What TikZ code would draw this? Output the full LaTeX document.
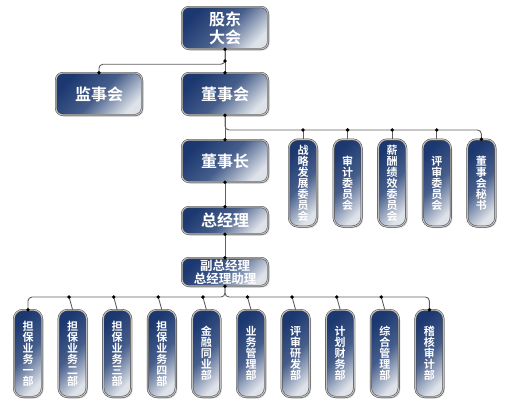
\documentclass[tikz,border=0pt]{standalone}
\usepackage{fontspec}
\newfontfamily\cjk{Noto Sans CJK SC}[BoldFont={Noto Sans CJK SC Bold}]
\usetikzlibrary{shadows}

\definecolor{boxdark}{RGB}{27,56,112}
\definecolor{boxlight}{RGB}{222,226,233}
\definecolor{linkgray}{RGB}{95,95,95}

\tikzset{
    orgbox/.style={draw=black!75, line width=0.45pt, double=gray!50, double distance=1.1pt,
        top color=boxdark, bottom color=boxlight, middle color=boxdark!78!boxlight,
        shading angle=45, text=white, align=center, inner sep=0pt,
        drop shadow={shadow xshift=1.5pt, shadow yshift=-1.5pt, opacity=0.3}},
    widebox/.style={orgbox, rounded corners=7pt, minimum width=86pt, minimum height=42pt,
        font=\cjk\bfseries\fontsize{16}{18}\selectfont},
    tallbox/.style={orgbox, rounded corners=9pt, minimum width=28pt, minimum height=87pt,
        font=\cjk\bfseries\fontsize{11}{11}\selectfont},
    link/.style={draw=linkgray, line width=0.9pt, rounded corners=4pt}
}

\begin{document}
\begin{tikzpicture}[x=1pt, y=-1pt]
    \useasboundingbox (0,0) rectangle (505,402);

    % main column
    \node[widebox] (gudong) at (225,28) {股东\\大会};
    \node[widebox] (jianshi) at (99,94) {监事会};
    \node[widebox] (dongshi) at (225,94) {董事会};
    \node[widebox] (dsz) at (225,161) {董事长};
    \node[widebox, minimum height=27pt] (zjl) at (225,220.5) {总经理};
    \node[widebox, minimum height=28pt, font=\cjk\bfseries\fontsize{12.5}{13.5}\selectfont]
        (fzjl) at (225,272) {副总经理\\总经理助理};

    % committees
    \foreach \name [count=\i from 1] in {{战\\略\\发\\展\\委\\员\\会},{审\\计\\委\\员\\会},
        {薪\\酬\\绩\\效\\委\\员\\会},{评\\审\\委\\员\\会},{董\\事\\会\\秘\\书}}{
        \node[tallbox] (wei\i) at (258.4+44.6*\i,183) {\name};
    }

    % departments
    \foreach \name [count=\i from 0] in {{担\\保\\业\\务\\一\\部},{担\\保\\业\\务\\二\\部},
        {担\\保\\业\\务\\三\\部},{担\\保\\业\\务\\四\\部},{金\\融\\同\\业\\部},
        {业\\务\\管\\理\\部},{评\\审\\研\\发\\部},{计\\划\\财\\务\\部},
        {综\\合\\管\\理\\部},{稽\\核\\审\\计\\部}}{
        \node[tallbox] (bu\i) at (28+44.6*\i,353.5) {\name};
    }

    \coordinate (gmid) at (225,61);
    \coordinate (wbar) at (225,130);
    \coordinate (bbar) at (225,297);

    % connectors
    \draw[link] (gudong.south) -- (dongshi.north);
    \draw[link] (gudong.south) -- ++(0,15) -| (jianshi.north);
    \draw[link] (dongshi.south) -- (dsz.north);
    \draw[link] (dongshi.south) -- (wbar) -| (wei5.north);
    \draw[link] (dsz.south) -- (zjl.north);
    \draw[link] (zjl.south) -- (fzjl.north);
    \draw[link] (fzjl.south) -- (bbar) -| (bu0.north);
    \draw[link] (fzjl.south) -- (bbar) -| (bu9.north);

    \foreach \i in {1,...,4}{
        \draw[link] (wei\i.north) -- (wei\i.north |- wbar) coordinate (wtop\i);
        \fill (wtop\i) circle (1.9pt);
    }
    \foreach \i in {1,...,8}{
        \draw[link] (bu\i.north) -- ([xshift=-3.5pt]bu\i.north |- bbar) coordinate (btop\i);
        \fill (btop\i) circle (1.9pt);
    }

    % dots
    \foreach \p in {gudong.south, gmid, dongshi.north, jianshi.north, dongshi.south, dsz.north,
        dsz.south, zjl.north, zjl.south, fzjl.north, fzjl.south, wei5.north, bu0.north, bu9.north}{
        \fill (\p) circle (1.9pt);
    }

\end{tikzpicture}
\end{document}
